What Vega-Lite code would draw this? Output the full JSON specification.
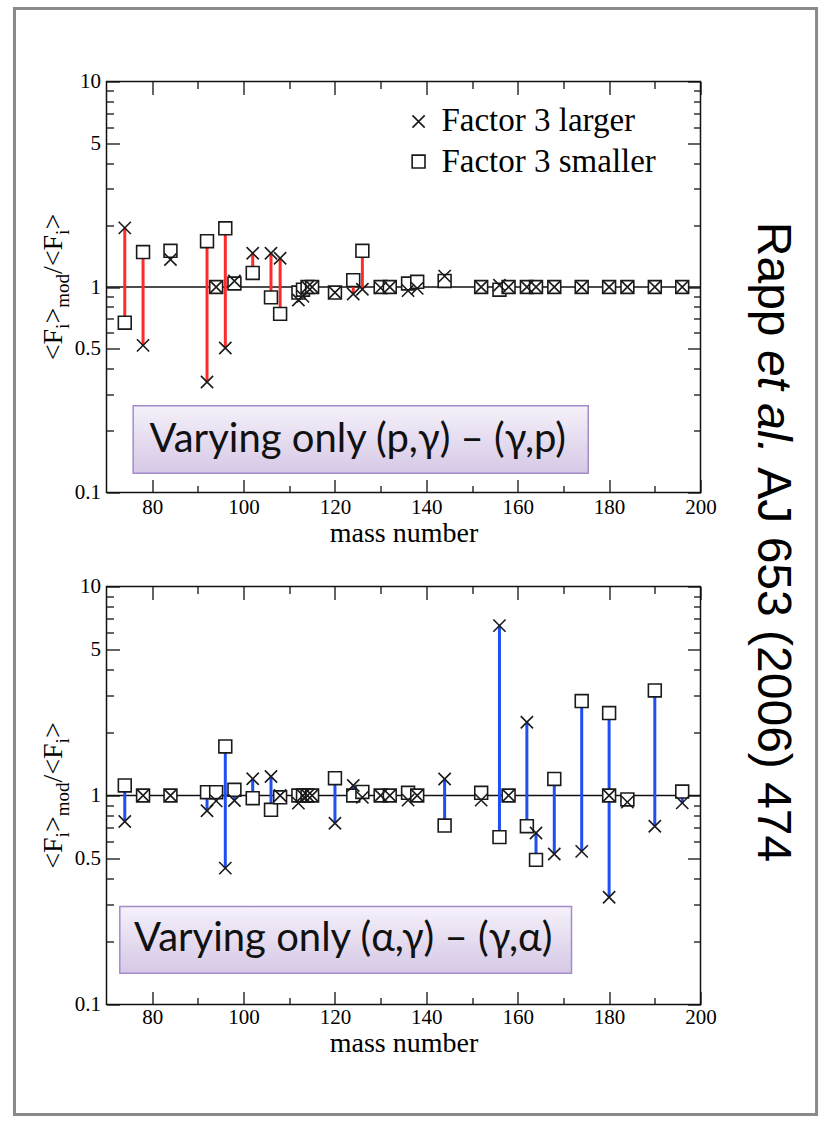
{
  "$schema": "https://vega.github.io/schema/vega-lite/v6.json",
  "background": "white",
  "padding": {"left": 11.5, "top": 5.5, "right": 0, "bottom": 0},
  "autosize": {"type": "pad"},
  "config": {
    "view": {"stroke": "#111", "strokeWidth": 1.5},
    "axis": {
      "domain": false, "grid": false, "labelFlush": false, "labelOverlap": false,
      "labelFont": "Liberation Serif", "labelFontSize": 21, "labelColor": "#000",
      "tickColor": "#111", "tickWidth": 1.3, "title": null
    },
    "text": {"font": "Liberation Serif", "color": "#000"}
  },
  "datasets": {
    "top": [
      {"A": 74, "larger": 1.94, "smaller": 0.67},
      {"A": 78, "larger": 0.52, "smaller": 1.48},
      {"A": 84, "larger": 1.36, "smaller": 1.5},
      {"A": 92, "larger": 0.345, "smaller": 1.67},
      {"A": 94, "larger": 1.0, "smaller": 1.0},
      {"A": 96, "larger": 0.505, "smaller": 1.93},
      {"A": 98, "larger": 1.07, "smaller": 1.04},
      {"A": 102, "larger": 1.46, "smaller": 1.17},
      {"A": 106, "larger": 1.46, "smaller": 0.89},
      {"A": 108, "larger": 1.38, "smaller": 0.74},
      {"A": 112, "larger": 0.865, "smaller": 0.94},
      {"A": 113, "larger": 0.9, "smaller": 0.97},
      {"A": 114, "larger": 1.0, "smaller": 1.0},
      {"A": 115, "larger": 1.0, "smaller": 1.0},
      {"A": 120, "larger": 0.94, "smaller": 0.94},
      {"A": 124, "larger": 0.925, "smaller": 1.08},
      {"A": 126, "larger": 0.975, "smaller": 1.5},
      {"A": 130, "larger": 0.99, "smaller": 1.0},
      {"A": 132, "larger": 1.0, "smaller": 1.0},
      {"A": 136, "larger": 0.96, "smaller": 1.04},
      {"A": 138, "larger": 0.985, "smaller": 1.06},
      {"A": 144, "larger": 1.13, "smaller": 1.07},
      {"A": 152, "larger": 1.0, "smaller": 1.0},
      {"A": 156, "larger": 1.02, "smaller": 0.97},
      {"A": 158, "larger": 1.0, "smaller": 1.0},
      {"A": 162, "larger": 1.0, "smaller": 1.0},
      {"A": 164, "larger": 1.0, "smaller": 1.0},
      {"A": 168, "larger": 1.0, "smaller": 1.0},
      {"A": 174, "larger": 1.0, "smaller": 1.0},
      {"A": 180, "larger": 1.0, "smaller": 1.0},
      {"A": 184, "larger": 1.0, "smaller": 1.0},
      {"A": 190, "larger": 1.0, "smaller": 1.0},
      {"A": 196, "larger": 1.0, "smaller": 1.0}
    ],
    "bottom": [
      {"A": 74, "larger": 0.751, "smaller": 1.117},
      {"A": 78, "larger": 1.0, "smaller": 1.0},
      {"A": 84, "larger": 1.0, "smaller": 1.0},
      {"A": 92, "larger": 0.845, "smaller": 1.037},
      {"A": 94, "larger": 0.943, "smaller": 1.037},
      {"A": 96, "larger": 0.449, "smaller": 1.716},
      {"A": 98, "larger": 0.946, "smaller": 1.065},
      {"A": 102, "larger": 1.202, "smaller": 0.971},
      {"A": 106, "larger": 1.233, "smaller": 0.854},
      {"A": 108, "larger": 1.0, "smaller": 0.98},
      {"A": 112, "larger": 0.92, "smaller": 1.0},
      {"A": 113, "larger": 1.0, "smaller": 1.0},
      {"A": 114, "larger": 1.0, "smaller": 1.0},
      {"A": 115, "larger": 1.0, "smaller": 1.0},
      {"A": 120, "larger": 0.737, "smaller": 1.21},
      {"A": 124, "larger": 1.117, "smaller": 1.0},
      {"A": 126, "larger": 0.98, "smaller": 1.04},
      {"A": 130, "larger": 1.0, "smaller": 1.0},
      {"A": 132, "larger": 1.0, "smaller": 1.0},
      {"A": 136, "larger": 0.95, "smaller": 1.03},
      {"A": 138, "larger": 1.0, "smaller": 1.0},
      {"A": 144, "larger": 1.2, "smaller": 0.718},
      {"A": 152, "larger": 0.95, "smaller": 1.03},
      {"A": 156, "larger": 6.5, "smaller": 0.632},
      {"A": 158, "larger": 1.0, "smaller": 1.0},
      {"A": 162, "larger": 2.24, "smaller": 0.713},
      {"A": 164, "larger": 0.662, "smaller": 0.492},
      {"A": 168, "larger": 0.525, "smaller": 1.2},
      {"A": 174, "larger": 0.54, "smaller": 2.83},
      {"A": 180, "larger": 0.326, "smaller": 2.48},
      {"A": 180, "larger": 1.0, "smaller": 1.0},
      {"A": 184, "larger": 0.93, "smaller": 0.957},
      {"A": 190, "larger": 0.713, "smaller": 3.18},
      {"A": 196, "larger": 0.922, "smaller": 1.045}
    ]
  },
  "bounds": "flush",
  "spacing": 94,
  "resolve": {"scale": {"x": "independent", "y": "independent"}},
  "vconcat": [
    {
      "width": 594,
      "height": 411,
      "resolve": {"axis": {"x": "independent", "y": "independent"}},
      "layer": [
        {
          "data": {"values": [{}]},
          "mark": {"type": "rect", "fill": "#8c8c8c", "opacity": 0.35, "xOffset": 3, "yOffset": 4},
          "encoding": {
            "x": {"datum": 75.84, "type": "quantitative", "scale": {"domain": [70, 200]}, "axis": null},
            "x2": {"datum": 175.43},
            "y": {"datum": 0.264, "type": "quantitative", "scale": {"type": "log", "domain": [0.1, 10]}, "axis": null},
            "y2": {"datum": 0.124}
          }
        },
        {
          "data": {"values": [{}]},
          "mark": {
            "type": "rect", "stroke": "#a48ccb", "strokeWidth": 1.5,
            "fill": {"gradient": "linear", "x1": 0, "y1": 0, "x2": 0, "y2": 1,
              "stops": [{"offset": 0, "color": "#f5f1fa"}, {"offset": 1, "color": "#d6c8e6"}]}
          },
          "encoding": {
            "x": {"datum": 75.84, "type": "quantitative", "scale": {"domain": [70, 200]},
              "axis": {"orient": "top", "values": [90, 110, 130, 150, 170, 190], "tickSize": -7, "labels": false}},
            "x2": {"datum": 175.43},
            "y": {"datum": 0.264, "type": "quantitative", "scale": {"type": "log", "domain": [0.1, 10]},
              "axis": {"orient": "right", "values": [0.2, 0.3, 0.4, 0.6, 0.7, 0.8, 0.9, 2, 3, 4, 6, 7, 8, 9], "tickSize": -7, "labels": false}},
            "y2": {"datum": 0.124}
          }
        },
        {
          "data": {"values": [{}]},
          "mark": {"type": "text", "text": "Varying only (p,γ) – (γ,p)", "font": "Lato, Open Sans, sans-serif", "fontSize": 40, "color": "#111", "align": "center", "baseline": "middle"},
          "encoding": {
            "x": {"datum": 125.0, "type": "quantitative", "scale": {"domain": [70, 200]}, "axis": null},
            "y": {"datum": 0.181, "type": "quantitative", "scale": {"type": "log", "domain": [0.1, 10]}, "axis": null}
          }
        },
        {
          "data": {"values": [{}]},
          "mark": {"type": "rule", "color": "#111", "strokeWidth": 1.5},
          "encoding": {
            "y": {"datum": 1, "type": "quantitative", "scale": {"type": "log", "domain": [0.1, 10]}, "axis": null}
          }
        },
        {
          "data": {"name": "top"},
          "mark": {"type": "rule", "color": "#ff2b2b", "strokeWidth": 3},
          "encoding": {
            "x": {"field": "A", "type": "quantitative", "scale": {"domain": [70, 200]},
              "axis": {"orient": "bottom", "values": [80, 100, 120, 140, 160, 180, 200], "tickSize": -13, "labelPadding": 17,
                "title": "mass number", "titleFont": "Liberation Serif", "titleFontSize": 28, "titleFontWeight": "normal", "titleColor": "#000", "titlePadding": 2}},
            "y": {"field": "larger", "type": "quantitative", "scale": {"type": "log", "domain": [0.1, 10]},
              "axis": {"orient": "left", "values": [0.1, 0.5, 1, 5, 10], "format": "~g", "tickSize": -13, "labelPadding": 19}},
            "y2": {"field": "smaller"}
          }
        },
        {
          "data": {"name": "top"},
          "mark": {"type": "point", "shape": "square", "size": 165, "fill": "white", "fillOpacity": 1, "stroke": "#1a1a1a", "strokeWidth": 1.6, "opacity": 1},
          "encoding": {
            "x": {"field": "A", "type": "quantitative", "scale": {"domain": [70, 200]},
              "axis": {"orient": "top", "values": [80, 100, 120, 140, 160, 180, 200], "tickSize": -13, "labels": false}},
            "y": {"field": "smaller", "type": "quantitative", "scale": {"type": "log", "domain": [0.1, 10]},
              "axis": {"orient": "right", "values": [0.1, 0.5, 1, 5, 10], "tickSize": -13, "labels": false}}
          }
        },
        {
          "data": {"name": "top"},
          "mark": {"type": "point", "shape": "M-1,-1L1,1M1,-1L-1,1", "size": 150, "fill": "white", "fillOpacity": 1, "stroke": "#1a1a1a", "strokeWidth": 1.6, "opacity": 1},
          "encoding": {
            "x": {"field": "A", "type": "quantitative", "scale": {"domain": [70, 200]},
              "axis": {"orient": "bottom", "values": [90, 110, 130, 150, 170, 190], "tickSize": -7, "labels": false}},
            "y": {"field": "larger", "type": "quantitative", "scale": {"type": "log", "domain": [0.1, 10]},
              "axis": {"orient": "left", "values": [0.2, 0.3, 0.4, 0.6, 0.7, 0.8, 0.9, 2, 3, 4, 6, 7, 8, 9], "tickSize": -7, "labels": false}}
          }
        },
        {
          "data": {"values": [{}]},
          "mark": {"type": "point", "shape": "M-1,-1L1,1M1,-1L-1,1", "size": 150, "stroke": "#1a1a1a", "strokeWidth": 1.6, "opacity": 1},
          "encoding": {
            "x": {"datum": 138.3, "type": "quantitative", "scale": {"domain": [70, 200]}, "axis": null},
            "y": {"datum": 6.39, "type": "quantitative", "scale": {"type": "log", "domain": [0.1, 10]}, "axis": null}
          }
        },
        {
          "data": {"values": [{}]},
          "mark": {"type": "point", "shape": "square", "size": 165, "fill": "white", "fillOpacity": 1, "stroke": "#1a1a1a", "strokeWidth": 1.6, "opacity": 1},
          "encoding": {
            "x": {"datum": 138.3, "type": "quantitative", "scale": {"domain": [70, 200]}, "axis": null},
            "y": {"datum": 4.08, "type": "quantitative", "scale": {"type": "log", "domain": [0.1, 10]}, "axis": null}
          }
        },
        {
          "data": {"values": [{}]},
          "mark": {"type": "text", "text": "Factor 3 larger", "align": "left", "baseline": "middle", "fontSize": 33},
          "encoding": {
            "x": {"datum": 143.3, "type": "quantitative", "scale": {"domain": [70, 200]}, "axis": null},
            "y": {"datum": 6.39, "type": "quantitative", "scale": {"type": "log", "domain": [0.1, 10]}, "axis": null}
          }
        },
        {
          "data": {"values": [{}]},
          "mark": {"type": "text", "text": "Factor 3 smaller", "align": "left", "baseline": "middle", "fontSize": 33},
          "encoding": {
            "x": {"datum": 143.3, "type": "quantitative", "scale": {"domain": [70, 200]}, "axis": null},
            "y": {"datum": 4.08, "type": "quantitative", "scale": {"type": "log", "domain": [0.1, 10]}, "axis": null}
          }
        },
        {
          "data": {"values": [{}]},
          "mark": {"type": "text", "text": "<F", "angle": 270, "align": "left", "baseline": "alphabetic", "fontSize": 28, "dx": -73.3, "dy": -45},
          "encoding": {
            "x": {"datum": 70, "type": "quantitative", "scale": {"domain": [70, 200]}, "axis": null},
            "y": {"datum": 1, "type": "quantitative", "scale": {"type": "log", "domain": [0.1, 10]}, "axis": null}
          }
        },
        {
          "data": {"values": [{}]},
          "mark": {"type": "text", "text": "i", "angle": 270, "align": "left", "baseline": "alphabetic", "fontSize": 19, "dx": -41.9, "dy": -38},
          "encoding": {
            "x": {"datum": 70, "type": "quantitative", "scale": {"domain": [70, 200]}, "axis": null},
            "y": {"datum": 1, "type": "quantitative", "scale": {"type": "log", "domain": [0.1, 10]}, "axis": null}
          }
        },
        {
          "data": {"values": [{}]},
          "mark": {"type": "text", "text": ">", "angle": 270, "align": "left", "baseline": "alphabetic", "fontSize": 28, "dx": -36.6, "dy": -45},
          "encoding": {
            "x": {"datum": 70, "type": "quantitative", "scale": {"domain": [70, 200]}, "axis": null},
            "y": {"datum": 1, "type": "quantitative", "scale": {"type": "log", "domain": [0.1, 10]}, "axis": null}
          }
        },
        {
          "data": {"values": [{}]},
          "mark": {"type": "text", "text": "mod", "angle": 270, "align": "left", "baseline": "alphabetic", "fontSize": 19, "dx": -20.8, "dy": -38},
          "encoding": {
            "x": {"datum": 70, "type": "quantitative", "scale": {"domain": [70, 200]}, "axis": null},
            "y": {"datum": 1, "type": "quantitative", "scale": {"type": "log", "domain": [0.1, 10]}, "axis": null}
          }
        },
        {
          "data": {"values": [{}]},
          "mark": {"type": "text", "text": "/<F", "angle": 270, "align": "left", "baseline": "alphabetic", "fontSize": 28, "dx": 13.0, "dy": -45},
          "encoding": {
            "x": {"datum": 70, "type": "quantitative", "scale": {"domain": [70, 200]}, "axis": null},
            "y": {"datum": 1, "type": "quantitative", "scale": {"type": "log", "domain": [0.1, 10]}, "axis": null}
          }
        },
        {
          "data": {"values": [{}]},
          "mark": {"type": "text", "text": "i", "angle": 270, "align": "left", "baseline": "alphabetic", "fontSize": 19, "dx": 52.1, "dy": -38},
          "encoding": {
            "x": {"datum": 70, "type": "quantitative", "scale": {"domain": [70, 200]}, "axis": null},
            "y": {"datum": 1, "type": "quantitative", "scale": {"type": "log", "domain": [0.1, 10]}, "axis": null}
          }
        },
        {
          "data": {"values": [{}]},
          "mark": {"type": "text", "text": ">", "angle": 270, "align": "left", "baseline": "alphabetic", "fontSize": 28, "dx": 57.4, "dy": -45},
          "encoding": {
            "x": {"datum": 70, "type": "quantitative", "scale": {"domain": [70, 200]}, "axis": null},
            "y": {"datum": 1, "type": "quantitative", "scale": {"type": "log", "domain": [0.1, 10]}, "axis": null}
          }
        }
      ]
    },
    {
      "width": 594,
      "height": 418,
      "resolve": {"axis": {"x": "independent", "y": "independent"}},
      "layer": [
        {
          "data": {"values": [{}]},
          "mark": {"type": "rect", "fill": "#8c8c8c", "opacity": 0.35, "xOffset": 3, "yOffset": 4},
          "encoding": {
            "x": {"datum": 72.91, "type": "quantitative", "scale": {"domain": [70, 200]}, "axis": null},
            "x2": {"datum": 171.77},
            "y": {"datum": 0.294, "type": "quantitative", "scale": {"type": "log", "domain": [0.1, 10]}, "axis": null},
            "y2": {"datum": 0.141}
          }
        },
        {
          "data": {"values": [{}]},
          "mark": {
            "type": "rect", "stroke": "#a48ccb", "strokeWidth": 1.5,
            "fill": {"gradient": "linear", "x1": 0, "y1": 0, "x2": 0, "y2": 1,
              "stops": [{"offset": 0, "color": "#f5f1fa"}, {"offset": 1, "color": "#d6c8e6"}]}
          },
          "encoding": {
            "x": {"datum": 72.91, "type": "quantitative", "scale": {"domain": [70, 200]},
              "axis": {"orient": "top", "values": [90, 110, 130, 150, 170, 190], "tickSize": -7, "labels": false}},
            "x2": {"datum": 171.77},
            "y": {"datum": 0.294, "type": "quantitative", "scale": {"type": "log", "domain": [0.1, 10]},
              "axis": {"orient": "right", "values": [0.2, 0.3, 0.4, 0.6, 0.7, 0.8, 0.9, 2, 3, 4, 6, 7, 8, 9], "tickSize": -7, "labels": false}},
            "y2": {"datum": 0.141}
          }
        },
        {
          "data": {"values": [{}]},
          "mark": {"type": "text", "text": "Varying only (α,γ) – (γ,α)", "font": "Lato, Open Sans, sans-serif", "fontSize": 40, "color": "#111", "align": "center", "baseline": "middle"},
          "encoding": {
            "x": {"datum": 121.8, "type": "quantitative", "scale": {"domain": [70, 200]}, "axis": null},
            "y": {"datum": 0.2047, "type": "quantitative", "scale": {"type": "log", "domain": [0.1, 10]}, "axis": null}
          }
        },
        {
          "data": {"values": [{}]},
          "mark": {"type": "rule", "color": "#111", "strokeWidth": 1.5},
          "encoding": {
            "y": {"datum": 1, "type": "quantitative", "scale": {"type": "log", "domain": [0.1, 10]}, "axis": null}
          }
        },
        {
          "data": {"name": "bottom"},
          "mark": {"type": "rule", "color": "#1f4ff0", "strokeWidth": 3},
          "encoding": {
            "x": {"field": "A", "type": "quantitative", "scale": {"domain": [70, 200]},
              "axis": {"orient": "bottom", "values": [80, 100, 120, 140, 160, 180, 200], "tickSize": -13, "labelPadding": 15,
                "title": "mass number", "titleFont": "Liberation Serif", "titleFontSize": 28, "titleFontWeight": "normal", "titleColor": "#000", "titlePadding": 2}},
            "y": {"field": "larger", "type": "quantitative", "scale": {"type": "log", "domain": [0.1, 10]},
              "axis": {"orient": "left", "values": [0.1, 0.5, 1, 5, 10], "format": "~g", "tickSize": -13, "labelPadding": 19}},
            "y2": {"field": "smaller"}
          }
        },
        {
          "data": {"name": "bottom"},
          "mark": {"type": "point", "shape": "square", "size": 165, "fill": "white", "fillOpacity": 1, "stroke": "#1a1a1a", "strokeWidth": 1.6, "opacity": 1},
          "encoding": {
            "x": {"field": "A", "type": "quantitative", "scale": {"domain": [70, 200]},
              "axis": {"orient": "top", "values": [80, 100, 120, 140, 160, 180, 200], "tickSize": -13, "labels": false}},
            "y": {"field": "smaller", "type": "quantitative", "scale": {"type": "log", "domain": [0.1, 10]},
              "axis": {"orient": "right", "values": [0.1, 0.5, 1, 5, 10], "tickSize": -13, "labels": false}}
          }
        },
        {
          "data": {"name": "bottom"},
          "mark": {"type": "point", "shape": "M-1,-1L1,1M1,-1L-1,1", "size": 150, "fill": "white", "fillOpacity": 1, "stroke": "#1a1a1a", "strokeWidth": 1.6, "opacity": 1},
          "encoding": {
            "x": {"field": "A", "type": "quantitative", "scale": {"domain": [70, 200]},
              "axis": {"orient": "bottom", "values": [90, 110, 130, 150, 170, 190], "tickSize": -7, "labels": false}},
            "y": {"field": "larger", "type": "quantitative", "scale": {"type": "log", "domain": [0.1, 10]},
              "axis": {"orient": "left", "values": [0.2, 0.3, 0.4, 0.6, 0.7, 0.8, 0.9, 2, 3, 4, 6, 7, 8, 9], "tickSize": -7, "labels": false}}
          }
        },
        {
          "data": {"values": [{}]},
          "mark": {"type": "text", "text": "<F", "angle": 270, "align": "left", "baseline": "alphabetic", "fontSize": 28, "dx": -73.3, "dy": -45},
          "encoding": {
            "x": {"datum": 70, "type": "quantitative", "scale": {"domain": [70, 200]}, "axis": null},
            "y": {"datum": 1, "type": "quantitative", "scale": {"type": "log", "domain": [0.1, 10]}, "axis": null}
          }
        },
        {
          "data": {"values": [{}]},
          "mark": {"type": "text", "text": "i", "angle": 270, "align": "left", "baseline": "alphabetic", "fontSize": 19, "dx": -41.9, "dy": -38},
          "encoding": {
            "x": {"datum": 70, "type": "quantitative", "scale": {"domain": [70, 200]}, "axis": null},
            "y": {"datum": 1, "type": "quantitative", "scale": {"type": "log", "domain": [0.1, 10]}, "axis": null}
          }
        },
        {
          "data": {"values": [{}]},
          "mark": {"type": "text", "text": ">", "angle": 270, "align": "left", "baseline": "alphabetic", "fontSize": 28, "dx": -36.6, "dy": -45},
          "encoding": {
            "x": {"datum": 70, "type": "quantitative", "scale": {"domain": [70, 200]}, "axis": null},
            "y": {"datum": 1, "type": "quantitative", "scale": {"type": "log", "domain": [0.1, 10]}, "axis": null}
          }
        },
        {
          "data": {"values": [{}]},
          "mark": {"type": "text", "text": "mod", "angle": 270, "align": "left", "baseline": "alphabetic", "fontSize": 19, "dx": -20.8, "dy": -38},
          "encoding": {
            "x": {"datum": 70, "type": "quantitative", "scale": {"domain": [70, 200]}, "axis": null},
            "y": {"datum": 1, "type": "quantitative", "scale": {"type": "log", "domain": [0.1, 10]}, "axis": null}
          }
        },
        {
          "data": {"values": [{}]},
          "mark": {"type": "text", "text": "/<F", "angle": 270, "align": "left", "baseline": "alphabetic", "fontSize": 28, "dx": 13.0, "dy": -45},
          "encoding": {
            "x": {"datum": 70, "type": "quantitative", "scale": {"domain": [70, 200]}, "axis": null},
            "y": {"datum": 1, "type": "quantitative", "scale": {"type": "log", "domain": [0.1, 10]}, "axis": null}
          }
        },
        {
          "data": {"values": [{}]},
          "mark": {"type": "text", "text": "i", "angle": 270, "align": "left", "baseline": "alphabetic", "fontSize": 19, "dx": 52.1, "dy": -38},
          "encoding": {
            "x": {"datum": 70, "type": "quantitative", "scale": {"domain": [70, 200]}, "axis": null},
            "y": {"datum": 1, "type": "quantitative", "scale": {"type": "log", "domain": [0.1, 10]}, "axis": null}
          }
        },
        {
          "data": {"values": [{}]},
          "mark": {"type": "text", "text": ">", "angle": 270, "align": "left", "baseline": "alphabetic", "fontSize": 28, "dx": 57.4, "dy": -45},
          "encoding": {
            "x": {"datum": 70, "type": "quantitative", "scale": {"domain": [70, 200]}, "axis": null},
            "y": {"datum": 1, "type": "quantitative", "scale": {"type": "log", "domain": [0.1, 10]}, "axis": null}
          }
        },
        {
          "data": {"values": [{}]},
          "mark": {"type": "rect", "fill": null, "fillOpacity": 0, "stroke": "#8a8a8a", "strokeWidth": 3},
          "encoding": {
            "x": {"datum": 49.86, "type": "quantitative", "scale": {"domain": [70, 200]}, "axis": null},
            "x2": {"datum": 225.4},
            "y": {"datum": 5831, "type": "quantitative", "scale": {"type": "log", "domain": [0.1, 10]}, "axis": null},
            "y2": {"datum": 0.02977}
          }
        },
        {
          "data": {"values": [{}]},
          "mark": {"type": "text", "text": "Rapp", "angle": 90, "align": "left", "baseline": "alphabetic", "font": "Liberation Sans", "fontSize": 48, "color": "#000", "dx": -320.2},
          "encoding": {
            "x": {"datum": 212.5, "type": "quantitative", "scale": {"domain": [70, 200]}, "axis": null},
            "y": {"datum": 16.33, "type": "quantitative", "scale": {"type": "log", "domain": [0.1, 10]}, "axis": null}
          }
        },
        {
          "data": {"values": [{}]},
          "mark": {"type": "text", "text": "et al.", "angle": 90, "align": "left", "baseline": "alphabetic", "font": "Liberation Sans", "fontStyle": "italic", "fontSize": 48, "color": "#000", "dx": -192.1},
          "encoding": {
            "x": {"datum": 212.5, "type": "quantitative", "scale": {"domain": [70, 200]}, "axis": null},
            "y": {"datum": 16.33, "type": "quantitative", "scale": {"type": "log", "domain": [0.1, 10]}, "axis": null}
          }
        },
        {
          "data": {"values": [{}]},
          "mark": {"type": "text", "text": "AJ 653 (2006) 474", "angle": 90, "align": "left", "baseline": "alphabetic", "font": "Liberation Sans", "fontSize": 48, "color": "#000", "dx": -74.7},
          "encoding": {
            "x": {"datum": 212.5, "type": "quantitative", "scale": {"domain": [70, 200]}, "axis": null},
            "y": {"datum": 16.33, "type": "quantitative", "scale": {"type": "log", "domain": [0.1, 10]}, "axis": null}
          }
        }
      ]
    }
  ]
}
